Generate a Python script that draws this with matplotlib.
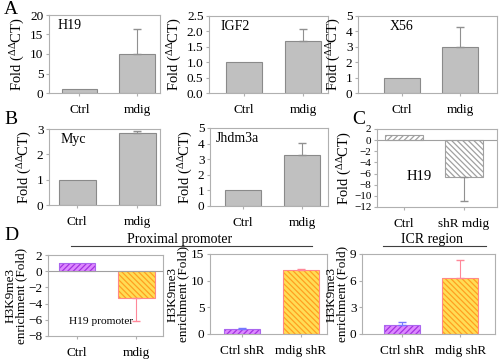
import matplotlib.pyplot as plt
import numpy as np

plt.rcParams['font.family'] = ['Liberation Serif', 'DejaVu Serif']
plt.rcParams['mathtext.fontset'] = 'custom'
plt.rcParams['mathtext.rm'] = 'Liberation Serif'
plt.rcParams['mathtext.it'] = 'Liberation Serif:italic'
plt.rcParams['hatch.linewidth'] = 0.9

# row A / B : fold change (ddCT)
ab_genes = ['H19', 'IGF2', 'X56', 'Myc', 'Jhdm3a']
ab_ctrl = [1.0, 1.0, 1.0, 1.0, 1.0]
ab_mdig = [10.0, 1.68, 3.0, 2.83, 3.25]
ab_err = [6.3, 0.4, 1.28, 0.1, 0.8]
ab_ylim = [(0, 20), (0, 2.5), (0, 5), (0, 3), (0, 5)]
ab_yticks = [[0, 5, 10, 15, 20], [0, 0.5, 1.0, 1.5, 2.0, 2.5],
             [0, 1, 2, 3, 4, 5], [0, 1, 2, 3], [0, 1, 2, 3, 4, 5]]
ab_labels = ['Ctrl', 'mdig']

# panel C
c_labels = ['Ctrl', 'shR mdig']
c_vals = [1.0, -6.7]
c_err = [0.0, 4.3]

# panel D
d1_labels = ['Ctrl', 'mdig']
d1_vals = [1.05, -3.3]
d1_err = [0.0, 2.9]
d2_labels = ['Ctrl shR', 'mdig shR']
d2_vals = [1.0, 11.95]
d2_err = [0.05, 0.15]
d3_labels = ['Ctrl shR', 'mdig shR']
d3_vals = [1.0, 6.33]
d3_err = [0.35, 2.0]

W, H = 500, 361
fig = plt.figure(figsize=(5.0, 3.61), dpi=100)


def box(x0, x1, y0, y1):
    return fig.add_axes([x0 / W, 1 - y1 / H, (x1 - x0) / W, (y1 - y0) / H])


def style(ax, ylim, yticks, labels, xlim, fmt=None, ysize=9.5):
    for s in ax.spines.values():
        s.set_color('#b0b0b0')
        s.set_linewidth(0.8)
    ax.set_ylim(*ylim)
    ax.set_yticks(yticks)
    if fmt:
        ax.set_yticklabels([fmt % t for t in yticks])
    ax.set_xlim(*xlim)
    ax.set_xticks([0, 1])
    ax.set_xticklabels(labels)
    ax.tick_params(axis='both', length=2, color='#b0b0b0', pad=2)
    ax.tick_params(axis='x', pad=6, labelsize=9.5)
    ax.tick_params(axis='y', labelsize=ysize)


grey_face = '#c0c0c0'
grey_edge = '#8a8a8a'
ylab_fold = 'Fold ($^{\\Delta\\Delta}$CT)'

pos_ab = [(49, 160, 15, 93), (209, 328, 16, 93), (358, 497, 16, 93),
          (49, 160, 129, 205), (210, 328, 128, 206)]
xl_ab = [(-0.53, 1.4), (-0.59, 1.42), (-0.76, 1.64), (-0.47, 1.38), (-0.56, 1.44)]
txt_x = [0.08, 0.1, 0.23, 0.1, 0.05]
for i in range(5):
    ax = box(*pos_ab[i])
    x = np.arange(2)
    ax.bar(x, [ab_ctrl[i], ab_mdig[i]], width=0.61, color=grey_face,
           edgecolor=grey_edge, linewidth=0.8)
    ax.errorbar(1, ab_mdig[i], yerr=[[0], [ab_err[i]]], fmt='none',
                ecolor='#909090', elinewidth=0.8, capsize=3)
    style(ax, ab_ylim[i], ab_yticks[i], ab_labels, xl_ab[i],
          '%.1f' if i == 1 else None)
    ax.set_ylabel(ylab_fold, fontsize=10.5, labelpad=2)
    ax.text(txt_x[i], 0.86, ab_genes[i], transform=ax.transAxes,
            fontsize=10, va='center', ha='left')

# panel C
ax = box(377, 497, 129, 207)
ax.bar([0, 1], c_vals, width=0.62, color='white', edgecolor='#a0a0a0',
       hatch=['//////', '\\\\\\\\\\\\'], linewidth=0.8)
ax.errorbar(1, c_vals[1], yerr=[[c_err[1]], [0]], fmt='none',
            ecolor='#909090', elinewidth=0.8, capsize=3)
ax.axhline(0, color='#a0a0a0', lw=0.8)
style(ax, (-12, 2), list(range(-12, 3, 2)), c_labels, (-0.45, 1.55), ysize=8)
ax.set_ylabel(ylab_fold, fontsize=10.5, labelpad=0)
ax.text(0.05, -6.6, 'H19', fontsize=10.5, va='center', ha='left')

# panel D
purple_face, purple_hatch, purple_edge = '#dd88ff', '#a333e0', '#aa66ee'
orange_face, orange_hatch, orange_edge = '#ffdd55', '#ffa020', '#ff8888'
ylab_d = 'H3K9me3\nenrichment (Fold)'


def dbars(ax, vals, err):
    faces = [purple_face, orange_face]
    hatches = [purple_hatch, orange_hatch]
    edges = [purple_edge, orange_edge]
    pats = ['//////', '\\\\\\\\\\\\']
    for j in range(2):
        ax.bar(j, vals[j], width=0.62, color=faces[j], edgecolor=hatches[j],
               hatch=pats[j], linewidth=0)
        ax.bar(j, vals[j], width=0.62, fill=False, edgecolor=edges[j],
               linewidth=0.8)
        if err[j] > 0:
            yerr = [[err[j]], [0]] if vals[j] < 0 else [[0], [err[j]]]
            ecol = '#ff8899' if j == 1 else '#7777ff'
            ax.errorbar(j, vals[j], yerr=yerr, fmt='none', ecolor=ecol,
                        elinewidth=0.8, capsize=3)


ax = box(48, 163, 255, 336)
dbars(ax, d1_vals, d1_err)
ax.axhline(0, color='#a0a0a0', lw=0.8)
style(ax, (-8, 2), list(range(-8, 3, 2)), d1_labels, (-0.49, 1.45))
ax.set_ylabel(ylab_d, fontsize=9.5, labelpad=1, linespacing=0.85)
ax.text(-0.13, -6.15, 'H19 promoter', fontsize=8.2, va='center', ha='left')

ax = box(210, 327, 254, 334)
dbars(ax, d2_vals, d2_err)
style(ax, (0, 15), [0, 5, 10, 15], d2_labels, (-0.54, 1.44))
ax.set_ylabel(ylab_d, fontsize=9.5, labelpad=1, linespacing=0.85)

ax = box(362, 495, 254, 334)
dbars(ax, d3_vals, d3_err)
style(ax, (0, 9), [0, 3, 6, 9], d3_labels, (-0.69, 1.6))
ax.set_ylabel(ylab_d, fontsize=9.5, labelpad=1, linespacing=0.85)

# panel letters and region headers
for lab, (px, py) in zip('ABCD', [(4, 9), (4, 119), (352, 119), (4, 236)]):
    fig.text(px / W, 1 - py / H, lab, fontsize=14, va='center', ha='left')

fig.text(180 / W, 1 - 239 / H, 'Proximal promoter', fontsize=10,
         ha='center', va='center')
fig.add_artist(plt.Line2D([71 / W, 312 / W], [1 - 246 / H, 1 - 246 / H],
                          color='#404040', lw=0.8))
fig.text(432 / W, 1 - 240 / H, 'ICR region', fontsize=10,
         ha='center', va='center')
fig.add_artist(plt.Line2D([383 / W, 486 / W], [1 - 246 / H, 1 - 246 / H],
                          color='#404040', lw=0.8))

fig.savefig('out.png', dpi=100)
